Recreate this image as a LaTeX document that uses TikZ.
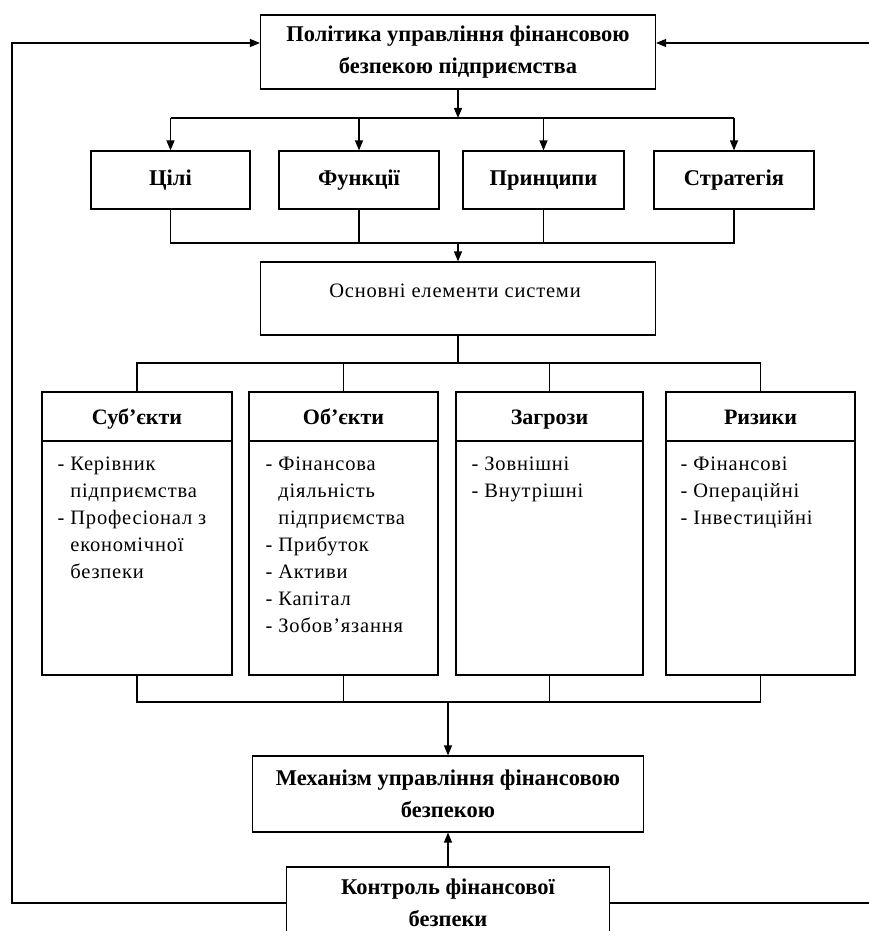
\documentclass[tikz,border=0pt]{standalone}
\usepackage{fontspec}
\setmainfont{Liberation Serif}
\usetikzlibrary{arrows.meta}
\begin{document}
\begin{tikzpicture}[x=1pt,y=-1pt,line width=1.2pt,
  box/.style={draw,rectangle,inner sep=0pt},
  btxt/.style={font=\fontsize{22.5}{32}\selectfont\bfseries,align=center},
  rowtwo/.style={box,btxt,minimum height=58pt,text height=16pt,text depth=5pt},
  htxt/.style={font=\fontsize{22}{32}\selectfont\bfseries,inner sep=0pt,anchor=base},
  rtxt/.style={font=\fontsize{20.5}{27}\selectfont\addfontfeature{LetterSpace=4},inner sep=0pt,anchor=base},
  ltxt/.style={font=\fontsize{20.5}{27}\selectfont\addfontfeature{LetterSpace=4},align=left,inner sep=0pt,anchor=north west},
  arr/.style={-{Triangle[length=10pt,width=8pt]}},
]
\useasboundingbox (0,0) rectangle (869,931);
% reference levels
\coordinate (y1) at (0,118);
\coordinate (y2) at (0,243);
\coordinate (y3) at (0,363);
\coordinate (yh) at (0,441);
\coordinate (yht) at (0,424);
\coordinate (y4) at (0,702);
\coordinate (fbL) at (12,43);
\coordinate (fbR) at (880,43);

% top
\node[box,btxt,minimum width=395pt,minimum height=74pt] (top) at (458,52) {Політика управління фінансовою\\безпекою підприємства};
% row 2
\node[rowtwo,minimum width=159pt] (c1) at (170.5,180) {Цілі};
\node[rowtwo,minimum width=160pt] (c2) at (359,180) {Функції};
\node[rowtwo,minimum width=161pt] (c3) at (543.5,180) {Принципи};
\node[rowtwo,minimum width=160pt] (c4) at (734,180) {Стратегія};
% main elements
\node[box,minimum width=395pt,minimum height=73pt] (osn) at (458,298.5) {};
\node[rtxt] (osnt) at (455,297) {Основні елементи системи};
% row 3
\node[box,minimum width=190pt,minimum height=283pt] (s1) at (137,533.5) {};
\node[box,minimum width=189pt,minimum height=283pt] (s2) at (343.5,533.5) {};
\node[box,minimum width=187pt,minimum height=283pt] (s3) at (549.5,533.5) {};
\node[box,minimum width=189pt,minimum height=283pt] (s4) at (760.5,533.5) {};
\foreach \s in {s1,s2,s3,s4}{\draw (\s.west |- yh) -- (\s.east |- yh);}
\node[htxt] (s1h) at (s1.north |- yht) {Суб’єкти};
\node[htxt] (s2h) at (s2.north |- yht) {Об’єкти};
\node[htxt] (s3h) at (s3.north |- yht) {Загрози};
\node[htxt] (s4h) at (s4.north |- yht) {Ризики};
\node[ltxt] (s1t) at (57,456) {- Керівник\\\phantom{- }підприємства\\- Професіонал з\\\phantom{- }економічної\\\phantom{- }безпеки};
\node[ltxt] (s2t) at (265,456) {- Фінансова\\\phantom{- }діяльність\\\phantom{- }підприємства\\- Прибуток\\- Активи\\- Капітал\\- Зобов’язання};
\node[ltxt] (s3t) at (471,456) {- Зовнішні\\- Внутрішні};
\node[ltxt] (s4t) at (680,456) {- Фінансові\\- Операційні\\- Інвестиційні};
% mechanism and control
\node[box,btxt,minimum width=391pt,minimum height=76pt] (mech) at (448,794) {Механізм управління фінансовою\\безпекою};
\node[box,btxt,minimum width=323pt,minimum height=72pt] (ctrl) at (448,903) {Контроль фінансової\\безпеки};

% connectors
\draw[arr] (top.south) -- (top.south |- y1);
\draw (c1.north |- y1) -- (c4.north |- y1);
\foreach \c in {c1,c2,c3,c4}{\draw[arr] (\c.north |- y1) -- (\c.north);}
\draw (c1.south) |- (c4.south |- y2) -- (c4.south);
\draw (c2.south) -- (c2.south |- y2);
\draw (c3.south) -- (c3.south |- y2);
\draw[arr] (osn.north |- y2) -- (osn.north);
\draw (osn.south) -- (osn.south |- y3);
\draw (s1.north) |- (s4.north |- y3) -- (s4.north);
\draw (s2.north) -- (s2.north |- y3);
\draw (s3.north) -- (s3.north |- y3);
\draw (s1.south) |- (s4.south |- y4) -- (s4.south);
\draw (s2.south) -- (s2.south |- y4);
\draw (s3.south) -- (s3.south |- y4);
\draw[arr] (mech.north |- y4) -- (mech.north);
\draw[arr] (ctrl.north) -- (mech.south);
\draw[arr] (ctrl.west) -| (fbL) -- (top.west |- fbL);
\draw[arr] (ctrl.east) -| (fbR) -- (top.east |- fbR);
\end{tikzpicture}
\end{document}
